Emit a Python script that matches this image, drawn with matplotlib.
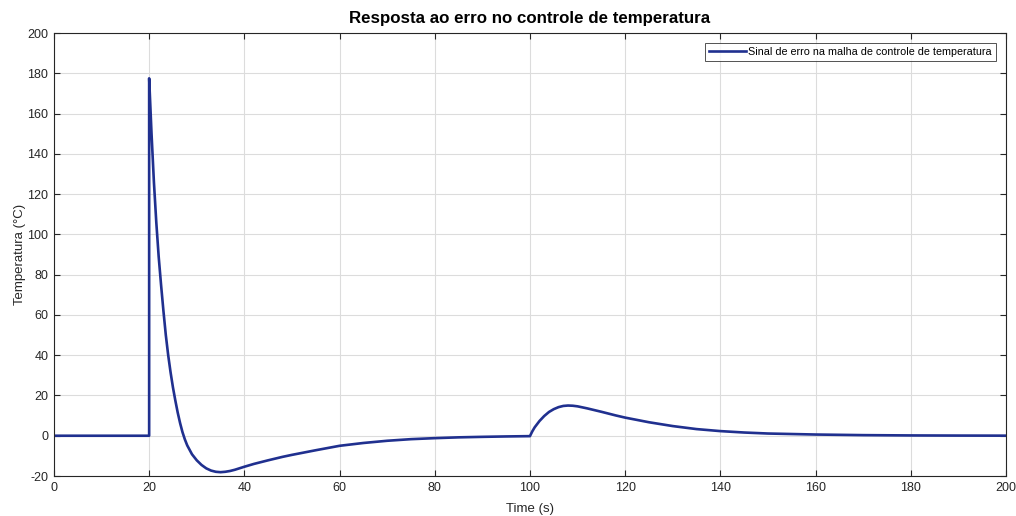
import matplotlib
matplotlib.use("Agg")
import matplotlib.pyplot as plt

plt.rcParams['font.family'] = ['Liberation Sans', 'DejaVu Sans']
plt.rcParams['axes.unicode_minus'] = False

# Error signal of the temperature control loop (time in s, error in °C)
time_s = [0, 20, 20, 20.5, 21, 21.5, 22, 22.5, 23, 23.5, 24, 24.5, 25, 25.5,
          26, 26.5, 27, 27.5, 28, 29, 30, 31, 32, 33, 34, 35, 36, 37, 38,
          40, 42, 45, 48, 50, 55, 60, 65, 70, 75, 80, 85, 90, 95, 100,
          100.5, 101, 102, 103, 104, 105, 106, 107, 108, 109, 110, 112,
          115, 118, 120, 125, 130, 135, 140, 145, 150, 160, 170, 180, 190, 200]
error_c = [0, 0, 177.5, 150, 126, 106, 89, 75, 62, 50, 40, 31.5, 24, 17.5,
           11.5, 6.3, 1.8, -1.8, -4.8, -9.2, -12.2, -14.5, -16.2, -17.3, -17.9,
           -18.1, -17.9, -17.5, -16.9, -15.4, -14.0, -12.2, -10.5, -9.5, -7.2,
           -5.0, -3.6, -2.5, -1.7, -1.2, -0.8, -0.55, -0.35, -0.2,
           2.2, 4.2, 7.3, 9.8, 11.8, 13.2, 14.2, 14.8, 15.0, 14.9, 14.6, 13.6,
           11.9, 10.1, 9.0, 6.7, 4.8, 3.3, 2.3, 1.6, 1.1, 0.6, 0.3, 0.15, 0.08, 0.04]

x_ticks = list(range(0, 201, 20))
y_ticks = list(range(-20, 201, 20))

title = "Resposta ao erro no controle de temperatura"
x_label = "Time (s)"
y_label = "Temperatura (°C)"
series_label = "Sinal de erro na malha de controle de temperatura"

axis_gray = "#262626"

fig = plt.figure(figsize=(10.16, 5.16), dpi=100)
ax = fig.add_axes([0.0531, 0.0775, 0.9370, 0.8585])

ax.plot(time_s, error_c, color="#20308f", linewidth=1.9, label=series_label)

ax.set_xlim(0, 200)
ax.set_ylim(-20, 200)
ax.set_xticks(x_ticks)
ax.set_yticks(y_ticks)

ax.grid(True, color="#dcdcdc", linewidth=0.8)
ax.set_axisbelow(True)
ax.tick_params(direction="in", top=True, right=True, length=4, width=0.8,
               labelsize=9, colors=axis_gray, pad=4)
for s in ax.spines.values():
    s.set_color(axis_gray)
    s.set_linewidth(0.8)

ax.set_title(title, fontsize=12.2, fontweight="bold", color="black", pad=7)
ax.set_xlabel(x_label, fontsize=9.5, color=axis_gray, labelpad=7)
ax.set_ylabel(y_label, fontsize=9.5, color=axis_gray, labelpad=1)

leg = ax.legend(loc="upper right", fontsize=7.75, frameon=True, fancybox=False,
                handlelength=3.4, borderaxespad=0.95, borderpad=0.35,
                handletextpad=0.25)
leg.get_frame().set_edgecolor("#262626")
leg.get_frame().set_linewidth(0.7)

fig.savefig("out.png", dpi=100, facecolor="white")
